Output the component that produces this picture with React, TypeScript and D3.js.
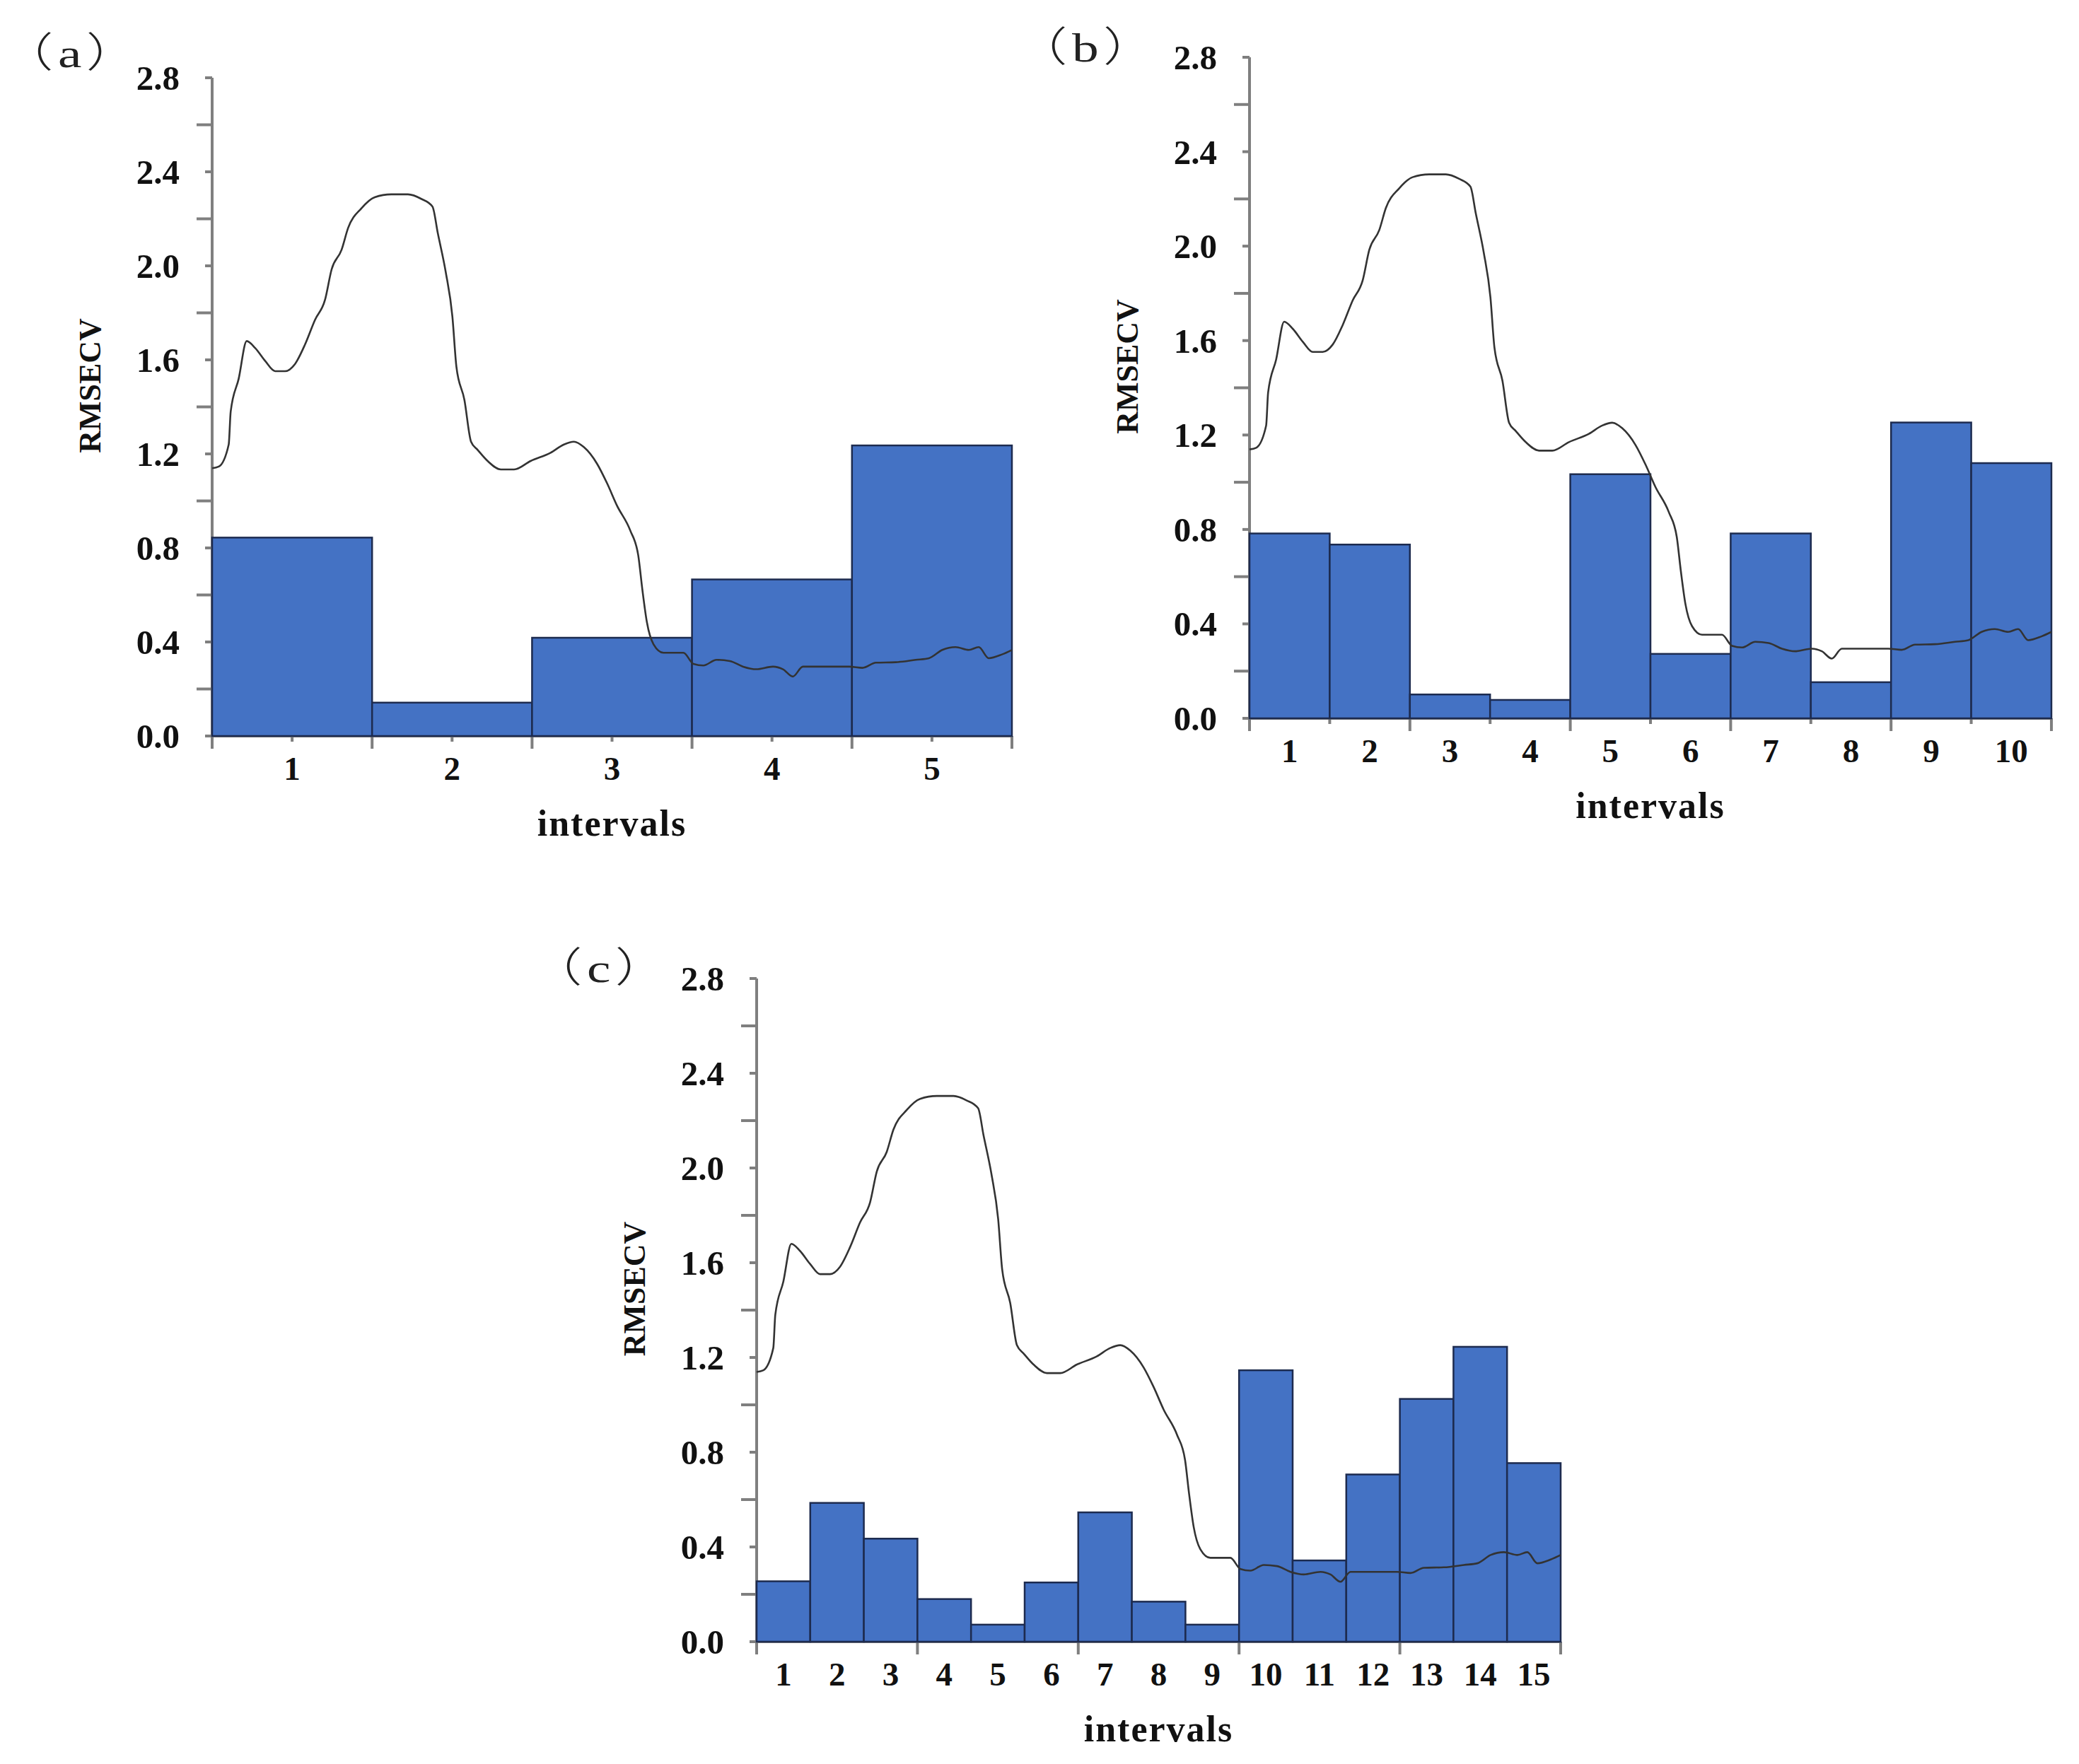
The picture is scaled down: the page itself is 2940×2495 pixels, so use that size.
import { useEffect, useRef } from 'react';
import * as d3 from 'd3';

// RMSECV axis
const yTickValues = [0, 0.4, 0.8, 1.2, 1.6, 2.0, 2.4, 2.8];
const yMinorValues = [0.2, 0.6, 1.0, 1.4, 1.8, 2.2, 2.6];

// interval RMSECV values per panel
const intervalsA = ['1', '2', '3', '4', '5'];
const rmsecvA = [0.844, 0.142, 0.418, 0.666, 1.236];

const intervalsB = ['1', '2', '3', '4', '5', '6', '7', '8', '9', '10'];
const rmsecvB = [0.783, 0.736, 0.101, 0.078, 1.034, 0.273, 0.783, 0.153, 1.253, 1.081];

const intervalsC = ['1', '2', '3', '4', '5', '6', '7', '8', '9', '10', '11', '12', '13', '14', '15'];
const rmsecvC = [0.255, 0.586, 0.435, 0.18, 0.072, 0.25, 0.546, 0.169, 0.072, 1.146, 0.343, 0.706, 1.025, 1.245, 0.754];

// full-spectrum RMSECV curve (position in % of spectrum)
const spectrumPos = [
  0, 0.83, 2.07, 2.32, 3.32, 4.32, 5.39, 6.64, 7.88, 9.13, 10.37, 11.62, 12.86, 14.11,
  14.94, 16.18, 17.01, 18.67, 20.33, 22.41, 24.48, 26.14, 27.55, 28.22, 29.21, 30.04,
  30.54, 31.54, 32.37, 33.2, 34.44, 36.1, 37.76, 39.83, 42.32, 43.98, 45.23, 46.47,
  48.13, 49.38, 50.62, 52.28, 53.28, 53.78, 54.36, 55.19, 56.43, 58.92, 60.17, 61.41,
  63.07, 64.73, 66.39, 68.05, 70.12, 71.37, 72.61, 73.86, 76.35, 79.67, 81.33, 82.99,
  85.48, 87.97, 89.63, 91.29, 92.95, 94.61, 95.85, 97.1, 98.76, 100,
];
const spectrumRmsecv = [
  1.139, 1.146, 1.24, 1.38, 1.52, 1.68, 1.65, 1.595, 1.552, 1.552, 1.583, 1.666, 1.77, 1.855,
  1.985, 2.068, 2.162, 2.245, 2.292, 2.304, 2.304, 2.285, 2.252, 2.138, 1.973, 1.784,
  1.571, 1.43, 1.252, 1.217, 1.17, 1.134, 1.134, 1.17, 1.205, 1.24, 1.252, 1.229,
  1.158, 1.075, 0.98, 0.874, 0.768, 0.626, 0.484, 0.39, 0.354, 0.354, 0.307, 0.3,
  0.324, 0.319, 0.295, 0.284, 0.295, 0.284, 0.253, 0.295, 0.295, 0.295, 0.29, 0.312,
  0.314, 0.324, 0.331, 0.366, 0.378, 0.366, 0.378, 0.331, 0.347, 0.366,
];

interface PanelSpec {
  letter: string;
  intervals: string[];
  values: number[];
  left: number;
  top: number;
  width: number;
  height: number;
  tickEvery: number; // spectrum % between x ticks
  majorEvery: number; // spectrum % between long x ticks
  tagX: number;
  tagY: number;
}

const panels: PanelSpec[] = [
  { letter: 'a', intervals: intervalsA, values: rmsecvA, left: 300, top: 110, width: 1131, height: 931, tickEvery: 10, majorEvery: 20, tagX: 0, tagY: 95 },
  { letter: 'b', intervals: intervalsB, values: rmsecvB, left: 1767, top: 81, width: 1134, height: 935, tickEvery: 10, majorEvery: 20, tagX: 1434, tagY: 87 },
  { letter: 'c', intervals: intervalsC, values: rmsecvC, left: 1070, top: 1384, width: 1137, height: 938, tickEvery: 20, majorEvery: 20, tagX: 748, tagY: 1389 },
];

const SERIF = "'Liberation Serif', 'Times New Roman', serif";
const CJK = "'Noto Sans CJK SC', 'Noto Sans CJK JP', sans-serif";
const AXIS_COLOR = '#7f7f7f';

function drawPanel(root: d3.Selection<SVGSVGElement, unknown, null, undefined>, p: PanelSpec) {
  const g = root.append('g').attr('transform', `translate(${p.left},${p.top})`);

  const y = d3.scaleLinear().domain([0, 2.8]).range([p.height, 0]);
  const xBand = d3.scaleBand<string>().domain(p.intervals).range([0, p.width]).paddingInner(0).paddingOuter(0);
  const xSpec = d3.scaleLinear().domain([0, 100]).range([0, p.width]);

  // axis lines
  g.append('line').attr('x1', 0).attr('x2', 0).attr('y1', 0).attr('y2', p.height)
    .attr('stroke', AXIS_COLOR).attr('stroke-width', 4);
  g.append('line').attr('x1', 0).attr('x2', p.width).attr('y1', p.height).attr('y2', p.height)
    .attr('stroke', AXIS_COLOR).attr('stroke-width', 4);

  // y ticks: labelled ones short, the ones between longer
  g.selectAll('line.ymaj').data(yTickValues).enter().append('line')
    .attr('x1', -10).attr('x2', 0).attr('y1', (d) => y(d)).attr('y2', (d) => y(d))
    .attr('stroke', AXIS_COLOR).attr('stroke-width', 4);
  g.selectAll('line.ymin').data(yMinorValues).enter().append('line')
    .attr('x1', -22).attr('x2', 0).attr('y1', (d) => y(d)).attr('y2', (d) => y(d))
    .attr('stroke', AXIS_COLOR).attr('stroke-width', 4);

  g.selectAll('text.ylab').data(yTickValues).enter().append('text')
    .attr('x', -46).attr('y', (d) => y(d) + 17)
    .attr('text-anchor', 'end')
    .attr('font-family', SERIF).attr('font-weight', 'bold').attr('font-size', 49)
    .attr('fill', '#111')
    .text((d) => d.toFixed(1));

  // x ticks
  const xTicks = d3.range(0, 100 + 0.001, p.tickEvery);
  g.selectAll('line.xt').data(xTicks).enter().append('line')
    .attr('x1', (d) => xSpec(d)).attr('x2', (d) => xSpec(d))
    .attr('y1', p.height)
    .attr('y2', (d) => p.height + (Math.abs(d / p.majorEvery - Math.round(d / p.majorEvery)) < 1e-6 ? 18 : 8))
    .attr('stroke', AXIS_COLOR).attr('stroke-width', 4);

  // bars
  g.selectAll('rect.bar').data(p.values).enter().append('rect')
    .attr('x', (_, i) => xBand(p.intervals[i]) ?? 0)
    .attr('width', xBand.bandwidth())
    .attr('y', (d) => y(d))
    .attr('height', (d) => p.height - y(d))
    .attr('fill', '#4472C4')
    .attr('stroke', '#1d2b4f')
    .attr('stroke-width', 2.5);

  // full spectrum curve
  const line = d3.line<number>()
    .x((_, i) => xSpec(spectrumPos[i]))
    .y((d) => y(d))
    .curve(d3.curveMonotoneX);
  g.append('path').datum(spectrumRmsecv)
    .attr('d', line)
    .attr('fill', 'none')
    .attr('stroke', '#333')
    .attr('stroke-width', 2.6);

  // interval labels
  g.selectAll('text.xlab').data(p.intervals).enter().append('text')
    .attr('x', (d) => (xBand(d) ?? 0) + xBand.bandwidth() / 2)
    .attr('y', p.height + 62)
    .attr('text-anchor', 'middle')
    .attr('font-family', SERIF).attr('font-weight', 'bold').attr('font-size', 47)
    .attr('fill', '#111')
    .text((d) => d);

  g.append('text')
    .attr('x', p.width / 2).attr('y', p.height + 141)
    .attr('text-anchor', 'middle')
    .attr('font-family', SERIF).attr('font-weight', 'bold').attr('font-size', 52)
    .attr('letter-spacing', 2)
    .attr('fill', '#111')
    .text('intervals');

  g.append('text')
    .attr('transform', `translate(${-158},${p.height / 2 - 30}) rotate(-90)`)
    .attr('text-anchor', 'middle')
    .attr('font-family', SERIF).attr('font-weight', 'bold').attr('font-size', 44)
    .attr('fill', '#111')
    .text('RMSECV');

  // panel tag （a）
  const tag = root.append('text')
    .attr('transform', `translate(${p.tagX},${p.tagY}) scale(1.3,1)`)
    .attr('font-size', 58)
    .attr('fill', '#222');
  tag.append('tspan').attr('font-family', CJK).attr('font-weight', 300).text('（');
  tag.append('tspan').attr('font-family', SERIF).attr('dx', 5).text(p.letter);
  tag.append('tspan').attr('font-family', CJK).attr('font-weight', 300).attr('dx', 5).text('）');
}

export default function App() {
  const svgRef = useRef<SVGSVGElement>(null);

  useEffect(() => {
    if (!svgRef.current) return;
    const svg = d3.select(svgRef.current);
    svg.selectAll('*').remove();
    svg.append('rect').attr('width', 2940).attr('height', 2495).attr('fill', '#fff');
    panels.forEach((p) => drawPanel(svg, p));
  }, []);

  return (
    <svg
      ref={svgRef}
      width={2940}
      height={2495}
      viewBox="0 0 2940 2495"
      style={{ position: 'absolute', left: 0, top: 0, display: 'block' }}
    />
  );
}
